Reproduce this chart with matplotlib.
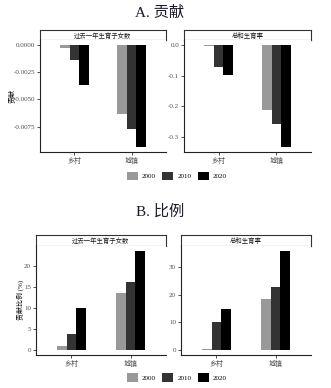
import matplotlib
matplotlib.use("Agg")
import matplotlib.pyplot as plt
from matplotlib.patches import Patch
import numpy as np

plt.rcParams['font.family'] = ['Liberation Serif', 'Noto Sans CJK SC']

W, H = 331, 388

areas = ["乡村", "城镇"]
years = ["2000", "2010", "2020"]
colors = ["#999999", "#333333", "#000000"]
facets = ["过去一年生育子女数", "总和生育率"]

# Panel A: contribution
contrib_births = {"2000": [-0.0003, -0.0063], "2010": [-0.0014, -0.0077], "2020": [-0.0037, -0.0094]}
contrib_tfr = {"2000": [-0.002, -0.213], "2010": [-0.072, -0.258], "2020": [-0.096, -0.333]}
ticks_a_births = [0.0, -0.0025, -0.0050, -0.0075]
ticklabels_a_births = ["0.0000", "-0.0025", "-0.0050", "-0.0075"]
ticks_a_tfr = [0.0, -0.1, -0.2, -0.3]
ticklabels_a_tfr = ["0.0", "-0.1", "-0.2", "-0.3"]

# Panel B: share (%)
share_births = {"2000": [0.95, 13.6], "2010": [3.8, 16.2], "2020": [10.1, 23.6]}
share_tfr = {"2000": [0.2, 18.3], "2010": [10.0, 22.6], "2020": [15.0, 35.8]}
ticks_b_births = [0, 5, 10, 15, 20]
ticks_b_tfr = [0, 10, 20, 30]

fig = plt.figure(figsize=(W / 100, H / 100), dpi=100)


def box(x0, y0, x1, y1):
    return [x0 / W, 1 - y1 / H, (x1 - x0) / W, (y1 - y0) / H]


def facet(x0, x1, strip_top, strip_bot, y_bot, data, ticks, ticklabels, title):
    st = fig.add_axes(box(x0, strip_top, x1, strip_bot))
    st.set_xticks([]); st.set_yticks([])
    for s in st.spines.values():
        s.set_linewidth(0.8)
        s.set_color("#333333")
    st.text(0.5, 0.45, title, ha="center", va="center", fontsize=4.6,
            transform=st.transAxes, color="#1a1a1a")

    ax = fig.add_axes(box(x0, strip_bot, x1, y_bot))
    x = np.arange(1, len(areas) + 1)
    bw = 0.5 / 3
    allv = []
    for i, yr in enumerate(years):
        vals = data[yr]
        allv += vals
        ax.bar(x + (i - 1) * bw, vals, width=bw, color=colors[i], linewidth=0)
    lo, hi = min(allv + [0]), max(allv + [0])
    pad = 0.05 * (hi - lo)
    ax.set_ylim(lo - pad, hi + pad)
    ax.set_xlim(0.4, 2.6)
    ax.set_xticks(x)
    ax.set_xticklabels(areas, fontsize=5)
    ax.set_yticks(ticks)
    ax.set_yticklabels(ticklabels, fontsize=5)
    ax.tick_params(length=2, width=0.6, pad=1.5, colors="#333333", labelcolor="#4d4d4d")
    for s in ["top", "right"]:
        ax.spines[s].set_visible(False)
    for s in ["left", "bottom"]:
        ax.spines[s].set_linewidth(0.8)
        ax.spines[s].set_color("#222222")
    return ax


def legend(y):
    handles = [Patch(facecolor=c, edgecolor="none", label=l) for c, l in zip(colors, years)]
    fig.legend(handles=handles, loc="center", bbox_to_anchor=(177 / W, 1 - y / H),
               ncol=3, frameon=False, fontsize=5, handlelength=1.6, handleheight=1.6,
               handletextpad=0.6, columnspacing=0.9, borderpad=0)


# Panel A
fig.text(160 / W, 1 - 13 / H, "A. 贡献", ha="center", va="center", fontsize=11, color="#1a1a2a")
facet(40, 166, 29.5, 40, 152.3, contrib_births, ticks_a_births, ticklabels_a_births, facets[0])
facet(184, 311, 29.5, 40, 152.3, contrib_tfr, ticks_a_tfr, ticklabels_a_tfr, facets[1])
fig.text(11 / W, 1 - 96 / H, "贡献", rotation=90, ha="center", va="center", fontsize=5)
legend(176)

# Panel B
fig.text(160 / W, 1 - 212 / H, "B. 比例", ha="center", va="center", fontsize=11, color="#1a1a2a")
facet(36, 166, 235, 246, 355, share_births, ticks_b_births, [str(t) for t in ticks_b_births], facets[0])
facet(181, 311, 235, 246, 355, share_tfr, ticks_b_tfr, [str(t) for t in ticks_b_tfr], facets[1])
fig.text(20 / W, 1 - 300 / H, "贡献比例 (%)", rotation=90, ha="center", va="center", fontsize=5)
legend(377.5)

fig.savefig("out.png", dpi=100)
